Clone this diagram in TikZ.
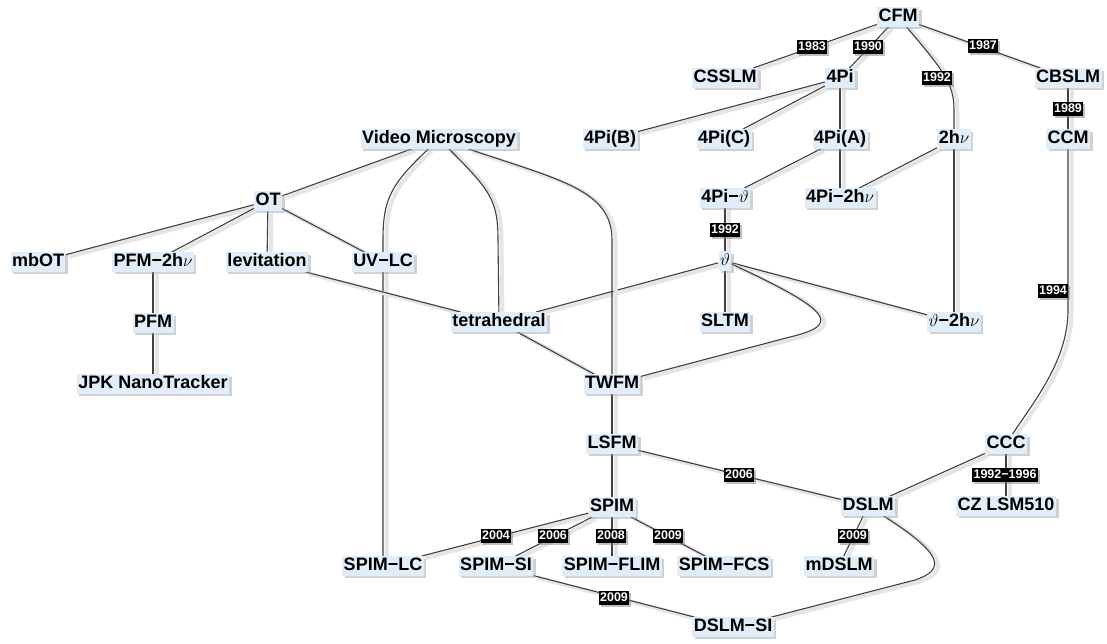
\documentclass[tikz,border=0pt]{standalone}
\usepackage{fontspec}
\setmainfont{Liberation Sans}
\usetikzlibrary{shadows}
\definecolor{nodeblue}{HTML}{E1EDF8}
\pgfdeclarelayer{back}
\pgfdeclarelayer{bg}
\pgfsetlayers{back,bg,main}
\tikzset{
  nd/.style={fill=nodeblue, inner sep=1.5pt, text height=13pt, text depth=3.5pt,
    font=\fontsize{18}{18}\selectfont\bfseries,
    drop shadow={shadow xshift=2.5pt, shadow yshift=-2.5pt, fill=black!40, opacity=0.45}},
  yr/.style={fill=black, text=white, inner sep=1.2pt, text height=9.5pt, text depth=2pt,
    font=\fontsize{12.5}{12.5}\selectfont\bfseries,
    drop shadow={shadow xshift=2pt, shadow yshift=-2pt, fill=black!50, opacity=0.5}},
  edge/.style={draw=black!75, line width=1.1pt,
    preaction={draw=black!10, line width=4pt, transform canvas={xshift=3.5pt, yshift=-2pt}}}
}
\begin{document}
\begin{tikzpicture}[x=1pt,y=-1pt]
\useasboundingbox (0,0) rectangle (1107,644);
\begin{pgfonlayer}{back}
\fill[white] (0,0) rectangle (1107,644);
\end{pgfonlayer}
% nodes
\node[nd] (CFM) at (898,17) {CFM};
\node[nd] (CSSLM) at (725,78) {CSSLM};
\node[nd] (FourPi) at (840,78) {4Pi};
\node[nd] (CBSLM) at (1068,78) {CBSLM};
\node[nd] (FourPiB) at (610,139) {4Pi(B)};
\node[nd] (FourPiC) at (724,139) {4Pi(C)};
\node[nd] (FourPiA) at (840,139) {4Pi(A)};
\node[nd] (twohv) at (954,139) {2h$\nu$};
\node[nd] (CCM) at (1068,139) {CCM};
\node[nd] (VM) at (439,139) {Video Microscopy};
\node[nd] (FourPith) at (725,198) {4Pi−$\vartheta$};
\node[nd] (FourPitwohv) at (840,198) {4Pi−2h$\nu$};
\node[nd] (OT) at (268,201) {OT};
\node[nd] (theta) at (725,261) {$\vartheta$};
\node[nd] (mbOT) at (38,262) {mbOT};
\node[nd] (PFMtwohv) at (153,262) {PFM−2h$\nu$};
\node[nd] (lev) at (267,262) {levitation};
\node[nd] (UVLC) at (383,262) {UV−LC};
\node[nd] (tetra) at (499,322) {tetrahedral};
\node[nd] (SLTM) at (725,322) {SLTM};
\node[nd] (thtwohv) at (954,322) {$\vartheta$−2h$\nu$};
\node[nd] (PFM) at (153,323) {PFM};
\node[nd] (JPK) at (153,384) {JPK NanoTracker};
\node[nd] (TWFM) at (612,384) {TWFM};
\node[nd] (LSFM) at (612,444) {LSFM};
\node[nd] (CCC) at (1006,444) {CCC};
\node[nd] (DSLM) at (868,506) {DSLM};
\node[nd] (CZ) at (1006,506) {CZ LSM510};
\node[nd] (SPIM) at (612,507) {SPIM};
\node[nd] (SPIMLC) at (383,566) {SPIM−LC};
\node[nd] (SPIMSI) at (496,566) {SPIM−SI};
\node[nd] (SPIMFLIM) at (612,566) {SPIM−FLIM};
\node[nd] (SPIMFCS) at (724,566) {SPIM−FCS};
\node[nd] (mDSLM) at (839,566) {mDSLM};
\node[nd] (DSLMSI) at (733,627) {DSLM−SI};
% edges
\begin{pgfonlayer}{bg}
\draw[edge] (CFM) -- (CSSLM) node[yr] at (812,47) {1983};
\draw[edge] (CFM) -- (FourPi) node[yr] at (868,47) {1990};
\draw[edge] (CFM) .. controls (945,72) and (954,85) .. (954,110) -- (twohv) node[yr] at (937,78) {1992};
\draw[edge] (CFM) -- (CBSLM) node[yr] at (983,46) {1987};
\draw[edge] (CBSLM) -- (CCM) node[yr] at (1068,109) {1989};
\draw[edge] (FourPi) -- (FourPiB);
\draw[edge] (FourPi) -- (FourPiC);
\draw[edge] (FourPi) -- (FourPiA);
\draw[edge] (FourPiA) -- (FourPitwohv);
\draw[edge] (FourPiA) -- (FourPith);
\draw[edge] (twohv) -- (FourPitwohv);
\draw[edge] (twohv) -- (thtwohv);
\draw[edge] (FourPith) -- (theta) node[yr] at (725,230) {1992};
\draw[edge] (theta) -- (tetra);
\draw[edge] (theta) -- (SLTM);
\draw[edge] (theta) -- (thtwohv);
\draw[edge] (theta) .. controls (835,312) and (840,325) .. (790,337) -- (TWFM);
\draw[edge] (CCM) -- (1068,310) .. controls (1068,360) and (1035,400) .. (CCC) node[yr] at (1053,291) {1994};
\draw[edge] (VM) -- (OT);
\draw[edge] (VM) .. controls (390,185) and (383,200) .. (383,240) -- (SPIMLC);
\draw[edge] (VM) .. controls (490,190) and (498,200) .. (498,240) -- (tetra);
\draw[edge] (VM) .. controls (560,180) and (612,190) .. (612,240) -- (TWFM);
\draw[edge] (OT) -- (mbOT);
\draw[edge] (OT) -- (PFMtwohv);
\draw[edge] (OT) -- (lev);
\draw[edge] (OT) -- (UVLC);
\draw[edge] (PFMtwohv) -- (PFM);
\draw[edge] (PFM) -- (JPK);
\draw[edge] (lev) -- (tetra);
\draw[edge] (tetra) -- (TWFM);
\draw[edge] (TWFM) -- (LSFM);
\draw[edge] (LSFM) -- (SPIM);
\draw[edge] (LSFM) -- (DSLM) node[yr] at (739,475) {2006};
\draw[edge] (SPIM) -- (SPIMLC) node[yr] at (496,536) {2004};
\draw[edge] (SPIM) -- (SPIMSI) node[yr] at (553,536) {2006};
\draw[edge] (SPIM) -- (SPIMFLIM) node[yr] at (611,536) {2008};
\draw[edge] (SPIM) -- (SPIMFCS) node[yr] at (668,536) {2009};
\draw[edge] (SPIMSI) -- (DSLMSI) node[yr] at (614,598) {2009};
\draw[edge] (DSLM) -- (CCC);
\draw[edge] (DSLM) -- (mDSLM) node[yr] at (853,536) {2009};
\draw[edge] (DSLM) .. controls (945,555) and (945,570) .. (915,580) -- (DSLMSI);
\draw[edge] (CCC) -- (CZ) node[yr] at (1005,475) {1992−1996};
\end{pgfonlayer}
\end{tikzpicture}
\end{document}
